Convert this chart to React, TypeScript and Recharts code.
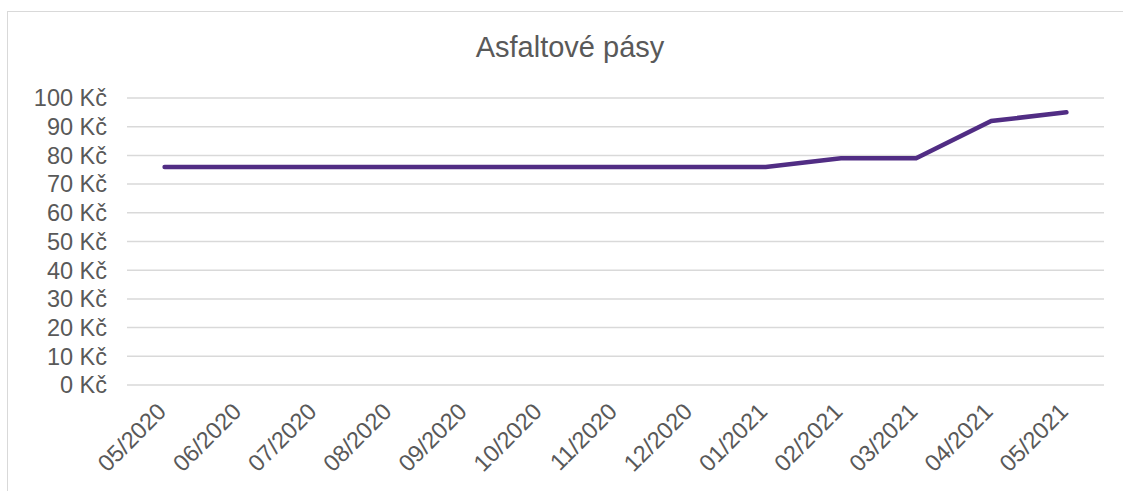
import { LineChart, Line, XAxis, YAxis, CartesianGrid } from "recharts";

const months = [
    "05/2020", "06/2020", "07/2020", "08/2020", "09/2020", "10/2020", "11/2020",
    "12/2020", "01/2021", "02/2021", "03/2021", "04/2021", "05/2021",
];
const prices = [76, 76, 76, 76, 76, 76, 76, 76, 76, 79, 79, 92, 95];
const yTicks = [0, 10, 20, 30, 40, 50, 60, 70, 80, 90, 100];

const textColor = "#595959";
const font = "'Liberation Sans', Arial, sans-serif";

const chartData = months.map((m, i) => ({ month: m, price: prices[i] }));

// rotated month labels like the Excel original
function MonthTick(props: any) {
    const { x, y, payload } = props;
    return (
        <g transform={`translate(${x + 3},${y + 20})`}>
            <text
                x={0}
                y={0}
                textAnchor="end"
                transform="rotate(-45)"
                fill={textColor}
                fontSize={23.5}
                fontFamily={font}
            >
                {payload.value}
            </text>
        </g>
    );
}

export default function App() {
    return (
        <div style={{ position: "absolute", left: 0, top: 0, width: 1123, height: 491, overflow: "hidden", background: "#fff" }}>
            <div
                style={{
                    position: "absolute",
                    left: 7,
                    top: 11,
                    width: 1140,
                    height: 500,
                    border: "1.5px solid #d9d9d9",
                }}
            />
            <div
                style={{
                    position: "absolute",
                    left: 0,
                    top: 31,
                    width: 1140,
                    textAlign: "center",
                    fontFamily: font,
                    fontSize: 29,
                    color: textColor,
                }}
            >
                Asfaltové pásy
            </div>
            <div style={{ position: "absolute", left: 0, top: 0 }}>
                <LineChart
                    width={1123}
                    height={491}
                    data={chartData}
                    margin={{ top: 98, right: 19, left: 0, bottom: 0 }}
                >
                    <CartesianGrid vertical={false} stroke="#d9d9d9" strokeWidth={1.5} />
                    <XAxis
                        dataKey="month"
                        axisLine={false}
                        tickLine={false}
                        interval={0}
                        height={106}
                        padding={{ left: 37.6, right: 37.6 }}
                        tick={<MonthTick />}
                    />
                    <YAxis
                        domain={[0, 100]}
                        ticks={yTicks}
                        interval={0}
                        width={127}
                        axisLine={false}
                        tickLine={false}
                        tickMargin={14}
                        tickFormatter={(v) => `${v} Kč`}
                        tick={{ fill: textColor, fontSize: 23.5, fontFamily: font }}
                    />
                    <Line
                        type="linear"
                        dataKey="price"
                        stroke="#512D84"
                        strokeWidth={4.5}
                        dot={false}
                        strokeLinecap="round"
                        isAnimationActive={false}
                    />
                </LineChart>
            </div>
        </div>
    );
}
